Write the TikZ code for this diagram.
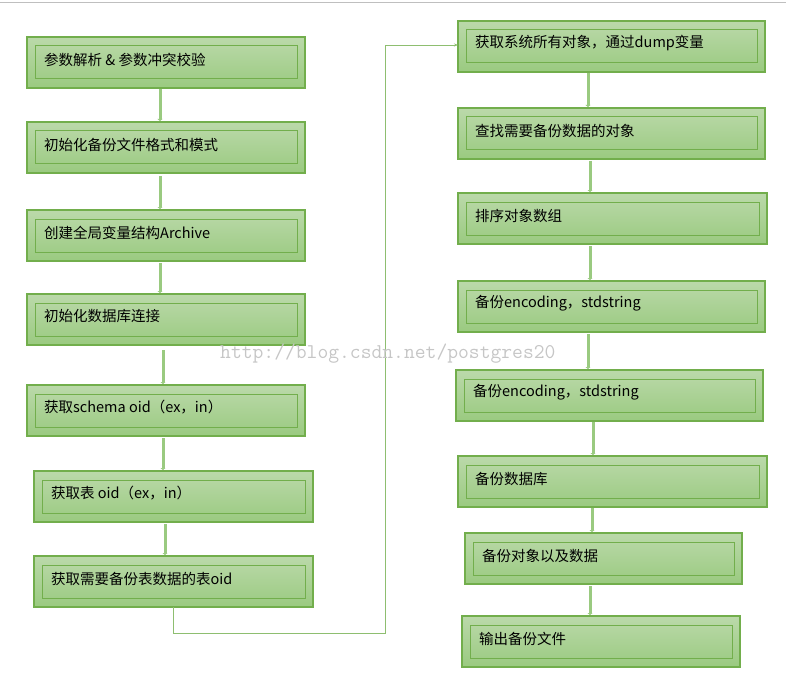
\documentclass[tikz,border=0pt]{standalone}
\usepackage{fontspec}
\newfontfamily\cjk{Noto Sans CJK SC}
\usetikzlibrary{arrows.meta}
\definecolor{gb}{HTML}{72AE4C}
\definecolor{gt}{HTML}{BBD9AA}
\definecolor{gm}{HTML}{9ACA80}
\tikzset{x=1pt,y=-1pt,
 outer/.style={draw=gb,line width=1.2pt,top color=gt,bottom color=gm},
 inner/.style={draw=gb,line width=1pt},
 lbl/.style={anchor=west,font=\cjk\fontsize{14.5}{16}\selectfont,inner sep=0pt},
 flow/.style={draw=gm,line width=3pt,-{Triangle[width=5pt,length=2pt]}},
 link/.style={draw=gb!80,line width=0.8pt,-{Stealth[length=4pt]}}}
\newcommand\bx[6]{%
 \path[outer] (#2,#3) rectangle (#4,#5);
 \path[inner] (#2+8,#3+9) rectangle (#4-8,#5-9);
 \coordinate (#1) at ({(#2+#4)/2},#3);
 \node[lbl] (#1t) at (#2+17,{(#3+#5)/2-3}) {#6};}
\begin{document}
\begin{tikzpicture}
\useasboundingbox (0,0) rectangle (786,687);
\draw[gray!50] (0,2) -- (786,2);
\bx{a1}{27}{37}{305}{88}{参数解析 \& 参数冲突校验}
\bx{a2}{27}{122}{305}{173}{初始化备份文件格式和模式}
\bx{a3}{27}{210}{305}{261}{创建全局变量结构Archive}
\bx{a4}{27}{294}{305}{345}{初始化数据库连接}
\bx{a5}{27}{385}{305}{436}{获取schema oid（ex，in）}
\bx{a6}{34}{471}{313}{522}{获取表 oid（ex，in）}
\bx{a7}{34}{556}{313}{607}{获取需要备份表数据的表oid}
\bx{b1}{458}{21}{765}{72}{获取系统所有对象，通过dump变量}
\bx{b2}{458}{108}{765}{159}{查找需要备份数据的对象}
\bx{b3}{458}{193}{767}{244}{排序对象数组}
\bx{b4}{458}{281}{765}{332}{备份encoding，stdstring}
\bx{b5}{456}{370}{763}{421}{备份encoding，stdstring}
\bx{b6}{458}{456}{767}{507}{备份数据库}
\bx{b7}{465}{533}{742}{584}{备份对象以及数据}
\bx{b8}{462}{616}{740}{667}{输出备份文件}
\foreach \x/\y/\z in {160/89/121,160/176/209,160/263/293,163/350/384,163/438/470,165/524/555,
 588/73/107,590/161/192,590/246/280,588/334/369,593/422/455,592/508/532,590/586/615}
 \draw[flow] (\x,\y) -- (\x,\z);
\coordinate (c1) at (173,607);
\coordinate (c2) at (173,633);
\coordinate (c3) at (385,633);
\coordinate (c4) at (385,45);
\coordinate (c5) at (458,45);
\draw[link] (c1) -- (c2) -- (c3) -- (c4) -- (c5);
\node[anchor=west,text=gray!45,font=\ttfamily\fontsize{21}{22}\selectfont,inner sep=0pt] (wm) at (220,354) {http://blog.csdn.net/postgres20};
\end{tikzpicture}
\end{document}
